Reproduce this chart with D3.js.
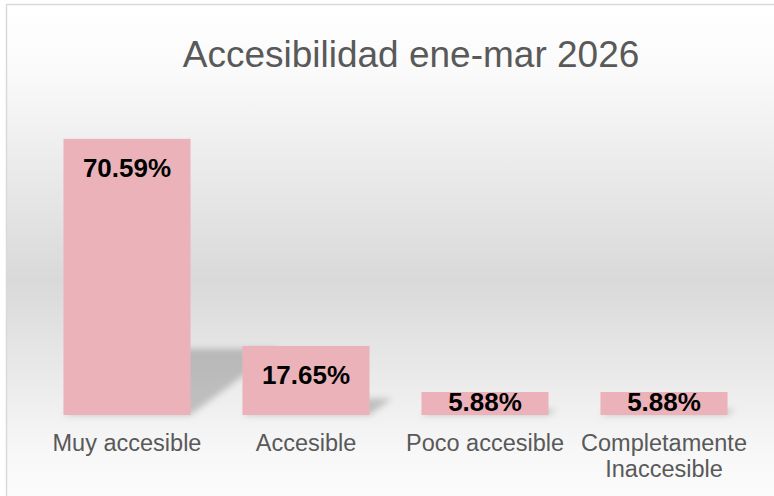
<!DOCTYPE html>
<meta charset="utf-8">
<script src="https://d3js.org/d3.v7.min.js"></script>
<style>
  body { margin: 0; background: #fff; }
  text { font-family: "Liberation Sans", Arial, sans-serif; }
</style>
<div id="chart"></div>
<script>
// data
const categories = ["Muy accesible", "Accesible", "Poco accesible", "Completamente Inaccesible"];
const values = [70.59, 17.65, 5.88, 5.88];
const chartTitle = "Accesibilidad ene-mar 2026";

const W = 774, H = 496;
const plot = {left: 37.5, right: 753.5, top: 102, bottom: 415};

const svg = d3.select("#chart").append("svg")
    .attr("width", W)
    .attr("height", H);

const defs = svg.append("defs");
const grad = defs.append("linearGradient")
    .attr("id", "bg")
    .attr("gradientUnits", "userSpaceOnUse")
    .attr("x1", 0).attr("y1", 5).attr("x2", 0).attr("y2", 555);
grad.append("stop").attr("offset", 0).attr("stop-color", "#ffffff");
grad.append("stop").attr("offset", 0.12).attr("stop-color", "#fafafa");
grad.append("stop").attr("offset", 0.5).attr("stop-color", "#d9d9d9");
grad.append("stop").attr("offset", 0.82).attr("stop-color", "#f8f8f8");
grad.append("stop").attr("offset", 1).attr("stop-color", "#ffffff");

defs.append("filter").attr("id", "blur")
    .attr("x", "-50%").attr("y", "-50%").attr("width", "200%").attr("height", "200%")
    .append("feGaussianBlur").attr("stdDeviation", 3);

// chart area (extends past the right and bottom edges like the reference crop)
svg.append("rect")
    .attr("x", 6.5).attr("y", 4.5)
    .attr("width", 830).attr("height", 540)
    .attr("fill", "url(#bg)")
    .attr("stroke", "#d9d9d9")
    .attr("stroke-width", 1.5);

svg.append("text")
    .text(chartTitle)
    .attr("x", 411)
    .attr("y", 67)
    .attr("text-anchor", "middle")
    .attr("font-size", "37px")
    .attr("fill", "#595959");

const x = d3.scaleBand()
    .domain(categories)
    .range([plot.left, plot.right])
    .paddingInner(0.29)
    .paddingOuter(0.145);

const y = d3.scaleLinear()
    .domain([0, 80])
    .range([plot.bottom, plot.top]);

const data = categories.map((c, i) => ({cat: c, value: values[i]}));

// perspective shadows behind the bars
const skew = 1.34, squash = 0.24;
svg.append("g")
    .attr("filter", "url(#blur)")
    .selectAll("polygon")
    .data(data)
    .join("polygon")
    .attr("points", d => {
        const x0 = x(d.cat), x1 = x(d.cat) + x.bandwidth();
        const base = y(0), sh = (y(0) - y(d.value)) * squash;
        return [[x0, base], [x1, base], [x1 + skew * sh, base - sh], [x0 + skew * sh, base - sh]].join(" ");
    })
    .attr("fill", "#000")
    .attr("fill-opacity", 0.2);

svg.append("g")
    .selectAll("rect")
    .data(data)
    .join("rect")
    .attr("x", d => x(d.cat))
    .attr("y", d => y(d.value))
    .attr("width", x.bandwidth())
    .attr("height", d => y(0) - y(d.value))
    .attr("fill", "#ebb3b9");

// value labels, inside end
svg.append("g")
    .selectAll("text")
    .data(data)
    .join("text")
    .attr("x", d => x(d.cat) + x.bandwidth() / 2)
    .attr("y", d => Math.min(y(d.value) + 38, y(0) - 4.5))
    .attr("text-anchor", "middle")
    .attr("font-size", "26px")
    .attr("font-weight", "bold")
    .attr("fill", "#000")
    .text(d => d.value.toFixed(2) + "%");

// category axis labels (no axis line in the reference)
const xAxis = svg.append("g")
    .attr("transform", `translate(0, ${plot.bottom})`)
    .call(d3.axisBottom(x).tickSize(0).tickPadding(0));
xAxis.select(".domain").remove();
xAxis.selectAll("text")
    .attr("y", 36)
    .attr("dy", null)
    .attr("font-size", "23.5px")
    .attr("font-family", "Liberation Sans, Arial, sans-serif")
    .attr("fill", "#595959")
    .call(wrap, x.step());

function wrap(sel, maxW) {
    sel.each(function() {
        const t = d3.select(this);
        const words = t.text().split(/\s+/);
        const y0 = t.attr("y");
        t.text(null);
        let line = [], lineNo = 0;
        let tspan = t.append("tspan").attr("x", 0).attr("y", y0);
        words.forEach(w => {
            line.push(w);
            tspan.text(line.join(" "));
            if (tspan.node().getComputedTextLength() > maxW && line.length > 1) {
                line.pop();
                tspan.text(line.join(" "));
                line = [w];
                lineNo++;
                tspan = t.append("tspan").attr("x", 0).attr("y", +y0 + lineNo * 26).text(w);
            }
        });
    });
}
</script>
